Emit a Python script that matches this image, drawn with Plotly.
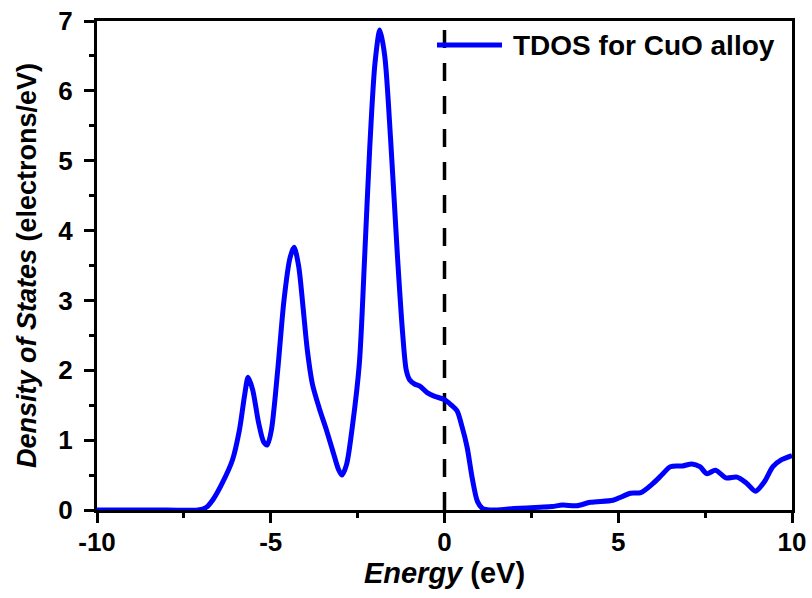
import plotly.graph_objects as go

# Total density of states for CuO, energies relative to the Fermi level
energy = [-10, -8, -7.1, -6.85, -6.66, -6.4, -6.1, -5.9, -5.75, -5.65, -5.52, -5.35,
          -5.2, -5.1, -4.98, -4.8, -4.62, -4.45, -4.33, -4.2, -4.07, -3.95, -3.8,
          -3.6, -3.4, -3.2, -3.05, -2.95, -2.82, -2.65, -2.45, -2.3, -2.15, -2.0,
          -1.86, -1.72, -1.55, -1.35, -1.2, -1.1, -1.0, -0.85, -0.7, -0.5, -0.3,
          0.0, 0.2, 0.36, 0.5, 0.65, 0.8, 0.95, 1.1, 1.3, 2.0, 2.75, 3.1, 3.4,
          3.8, 4.2, 4.85, 5.1, 5.35, 5.65, 6.0, 6.25, 6.5, 6.85, 7.12, 7.35, 7.55,
          7.8, 8.1, 8.42, 8.7, 8.95, 9.2, 9.45, 9.7, 10.0]
tdos = [0, 0, 0, 0.04, 0.15, 0.38, 0.72, 1.15, 1.65, 1.90, 1.72, 1.25,
        0.97, 0.93, 1.15, 2.0, 3.0, 3.6, 3.76, 3.5, 2.9, 2.3, 1.8,
        1.45, 1.15, 0.82, 0.58, 0.50, 0.65, 1.2, 2.1, 3.6, 5.2, 6.4,
        6.87, 6.5, 5.3, 3.6, 2.5, 2.0, 1.86, 1.80, 1.77, 1.68, 1.63,
        1.58, 1.50, 1.42, 1.2, 0.9, 0.45, 0.12, 0.02, 0.0, 0.02, 0.04, 0.05, 0.07,
        0.06, 0.11, 0.14, 0.19, 0.24, 0.25, 0.38, 0.5, 0.62, 0.63, 0.66, 0.62, 0.52,
        0.57, 0.46, 0.47, 0.38, 0.27, 0.4, 0.62, 0.72, 0.78]

fermi_x = [0, 0]
fermi_y = [0, 7]

x_ticks = [-10, -5, 0, 5, 10]
x_ticktext = ["-10", "-5", "0", "5", "10"]
y_ticks = [0, 1, 2, 3, 4, 5, 6, 7]
y_ticktext = ["0", "1", "2", "3", "4", "5", "6", "7"]

series_label = "TDOS for CuO alloy"

FONT = "Liberation Sans, Arial, sans-serif"
BLUE = "#0000ff"

fig = go.Figure()
fig.add_trace(go.Scatter(
    x=fermi_x, y=fermi_y, mode="lines", showlegend=False,
    line=dict(color="black", width=3.5, dash="18px,15px"),
))
fig.add_trace(go.Scatter(
    x=energy, y=tdos, mode="lines", name=series_label, showlegend=False,
    line=dict(color=BLUE, width=5, shape="spline", smoothing=0.8),
))

axis_common = dict(
    showline=True, linecolor="black", linewidth=3, mirror=True,
    showgrid=False, zeroline=False, automargin=False,
    ticks="outside", ticklen=10, tickwidth=3, tickcolor="black",
    tickfont=dict(family=FONT, size=26, color="black", weight=700),
)

fig.update_xaxes(
    range=[-10, 10], tickvals=x_ticks, ticktext=x_ticktext,
    minor=dict(ticks="outside", ticklen=5, tickwidth=3, dtick=2.5, tickcolor="black"),
    title=dict(text="<i>Energy</i> (eV)",
               font=dict(family=FONT, size=29, color="black", weight=700), standoff=4),
    ticklabelstandoff=-3,
    **axis_common,
)
fig.update_yaxes(
    range=[0, 7], tickvals=y_ticks, ticktext=y_ticktext,
    minor=dict(ticks="outside", ticklen=5, tickwidth=3, dtick=0.5, tickcolor="black"),
    title=dict(text="<i>Density of States</i> (electrons/eV)",
               font=dict(family=FONT, size=27, color="black", weight=700), standoff=14),
    ticklabelstandoff=6,
    **axis_common,
)

# Legend key: blue line sample followed by the series label
fig.add_shape(type="line", xref="paper", yref="paper",
              x0=(437 - 97) / 695, x1=(502 - 97) / 695,
              y0=(510 - 45) / 489, y1=(510 - 45) / 489,
              line=dict(color=BLUE, width=5))
fig.add_annotation(text=series_label, xref="paper", yref="paper",
                   x=(511 - 97) / 695, y=(510 - 45) / 489,
                   xanchor="left", yanchor="middle", showarrow=False,
                   font=dict(family=FONT, size=28, color="black", weight=700))

fig.update_layout(
    width=812, height=598,
    margin=dict(l=97, r=20, t=21, b=88),
    paper_bgcolor="white", plot_bgcolor="white",
)

fig.write_html("out.html")
